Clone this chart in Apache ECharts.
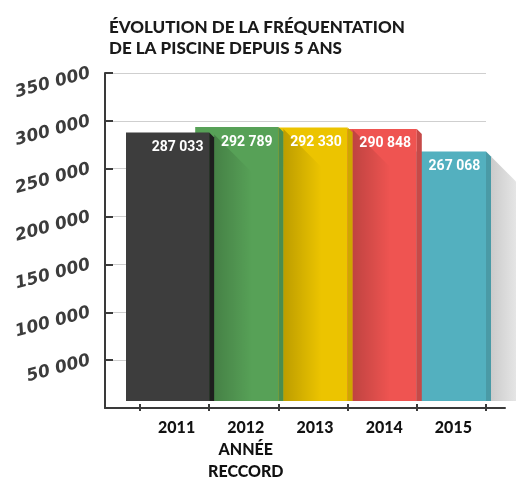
<!DOCTYPE html>
<html>
<head>
<meta charset="utf-8">
<script src="https://cdn.jsdelivr.net/npm/echarts@6/dist/echarts.min.js"></script>
<style>
  html, body { margin: 0; padding: 0; background: #fff; }
  #chart { width: 516px; height: 483px; }
</style>
</head>
<body>
<div id="chart"></div>
<script>
// données
var years = ['2011', '2012', '2013', '2014', '2015']
var notes = ['', 'ANNÉE\nRECCORD', '', '', '']
var visitors = [287033, 292789, 292330, 290848, 267068]
var yTicks = [0, 50000, 100000, 150000, 200000, 250000, 300000, 350000]

// couleurs : face, côté
var faceColors = ['#3d3d3d', '#57a157', '#ecc400', '#ef5451', '#53b0bf']
var sideColors = ['#1e1e1e', '#4b8d4f', '#cca800', '#c64a48', '#4a9aa6']
var shaded = [false, true, true, true, false]

function fmt(v) {
  return String(v).replace(/\B(?=(\d{3})+(?!\d))/g, ' ')
}

function renderBar(params, api) {
  var i = params.dataIndex
  var pt = api.coord([i, api.value(1)])
  var base = api.coord([i, 0])
  var bw = api.size([1, 0])[0]
  var x0 = pt[0] - bw / 2
  var x1 = pt[0] + bw / 2
  var top = pt[1]
  var bottom = base[1] - 3
  var z = 100 - i * 10
  var children = []

  // face avant (déborde derrière la barre précédente)
  children.push({
    type: 'rect',
    shape: { x: x0 - 14, y: top, width: x1 - x0 + 14, height: bottom - top },
    style: { fill: faceColors[i] },
    z2: z
  })

  // ombre portée par la barre précédente
  if (shaded[i]) {
    var xl = x0 + 5
    var G = 38
    var pTop = api.coord([i - 1, visitors[i - 1]])[1] + 2
    var pts
    if (pTop >= top) {
      pts = [[xl, pTop], [xl + G, pTop + G], [xl + G, bottom], [xl, bottom]]
    } else {
      var d = top - pTop
      pts = d >= G
        ? [[xl, top], [xl + G, top], [xl + G, bottom], [xl, bottom]]
        : [[xl, top], [xl + d, top], [xl + G, pTop + G], [xl + G, bottom], [xl, bottom]]
    }
    children.push({
      type: 'polygon',
      shape: { points: pts },
      style: {
        fill: new echarts.graphic.LinearGradient(0, 0, 1, 0, [
          { offset: 0, color: 'rgba(0,0,0,0.2)' },
          { offset: 1, color: 'rgba(0,0,0,0)' }
        ])
      },
      z2: z + 1
    })
  }

  // côté biseauté
  children.push({
    type: 'polygon',
    shape: { points: [[x1, top], [x1 + 5, top + 5], [x1 + 5, bottom], [x1, bottom]] },
    style: { fill: sideColors[i] },
    z2: z + 2
  })

  // ombre longue de la dernière barre
  if (i === visitors.length - 1) {
    var xs = x1 + 5
    children.push({
      type: 'polygon',
      shape: { points: [[xs, top + 5], [xs + 45, top + 50], [xs + 45, bottom], [xs, bottom]] },
      style: {
        fill: new echarts.graphic.LinearGradient(0, 0, 1, 0, [
          { offset: 0, color: '#cbcbcb' },
          { offset: 1, color: '#fafafa' }
        ])
      },
      z2: z
    })
  }

  // valeur
  children.push({
    type: 'text',
    x: pt[0] + 3,
    y: top + 15,
    style: {
      text: fmt(api.value(1)),
      fill: '#fff',
      font: 'bold 14px Roboto, sans-serif',
      align: 'center',
      verticalAlign: 'middle'
    },
    z2: z + 3
  })

  return { type: 'group', children: children }
}

var option = {
  animation: false,
  title: {
    text: 'ÉVOLUTION DE LA FRÉQUENTATION\nDE LA PISCINE DEPUIS 5 ANS',
    left: 104,
    top: 12,
    textStyle: {
      fontFamily: 'Lato',
      fontWeight: 900,
      fontSize: 17,
      lineHeight: 21,
      color: '#1a1a1a'
    }
  },
  grid: [
    { left: 105, right: 30, top: 73, bottom: 75 },
    { left: 140, right: 30, top: 73, bottom: 75 },
    { left: 105, right: 11, top: 73, bottom: 75 }
  ],
  xAxis: [
    { gridIndex: 0, type: 'value', show: false },
    {
      gridIndex: 1,
      type: 'category',
      data: years,
      axisLine: { show: false },
      axisTick: { show: true, length: 7, lineStyle: { color: '#3a3a3a', width: 2 } },
      axisLabel: {
        interval: 0,
        margin: 13,
        color: '#111',
        fontFamily: 'Lato',
        fontWeight: 900,
        fontSize: 16,
        lineHeight: 22,
        padding: [0, 0, 0, 4],
        formatter: function (v, idx) {
          return notes[idx] ? v + '\n' + notes[idx] : v
        }
      }
    },
    {
      gridIndex: 2,
      type: 'value',
      min: 0,
      max: 1,
      axisLine: { show: true, onZero: false, lineStyle: { color: '#3a3a3a', width: 2 } },
      axisTick: { show: false },
      axisLabel: { show: false },
      splitLine: { show: false }
    }
  ],
  yAxis: [
    {
      gridIndex: 0,
      type: 'value',
      min: yTicks[0],
      max: yTicks[yTicks.length - 1],
      interval: 50000,
      axisLine: { show: true, lineStyle: { color: '#3a3a3a', width: 2 } },
      axisTick: { show: true, inside: true, length: 8, lineStyle: { color: '#3a3a3a', width: 2 } },
      splitLine: { show: true, lineStyle: { color: '#cfcfcf', width: 1 } },
      axisLabel: {
        rotate: 15,
        margin: 15,
        color: '#3c3c3c',
        fontFamily: 'DejaVu Sans',
        fontStyle: 'italic',
        fontWeight: 'bold',
        fontSize: 17,
        formatter: function (v) {
          return v === 0 ? '' : fmt(v)
        }
      }
    },
    { gridIndex: 1, type: 'value', min: 0, max: 350000, show: false },
    { gridIndex: 2, type: 'value', min: 0, max: 1, show: false }
  ],
  series: [
    {
      type: 'custom',
      xAxisIndex: 1,
      yAxisIndex: 1,
      clip: false,
      silent: true,
      renderItem: renderBar,
      data: visitors.map(function (v, i) { return [i, v] })
    }
  ]
}

var chart = echarts.init(document.getElementById('chart'))
chart.setOption(option)
window.addEventListener('resize', function () {
  chart.resize()
})
</script>
</body>
</html>
